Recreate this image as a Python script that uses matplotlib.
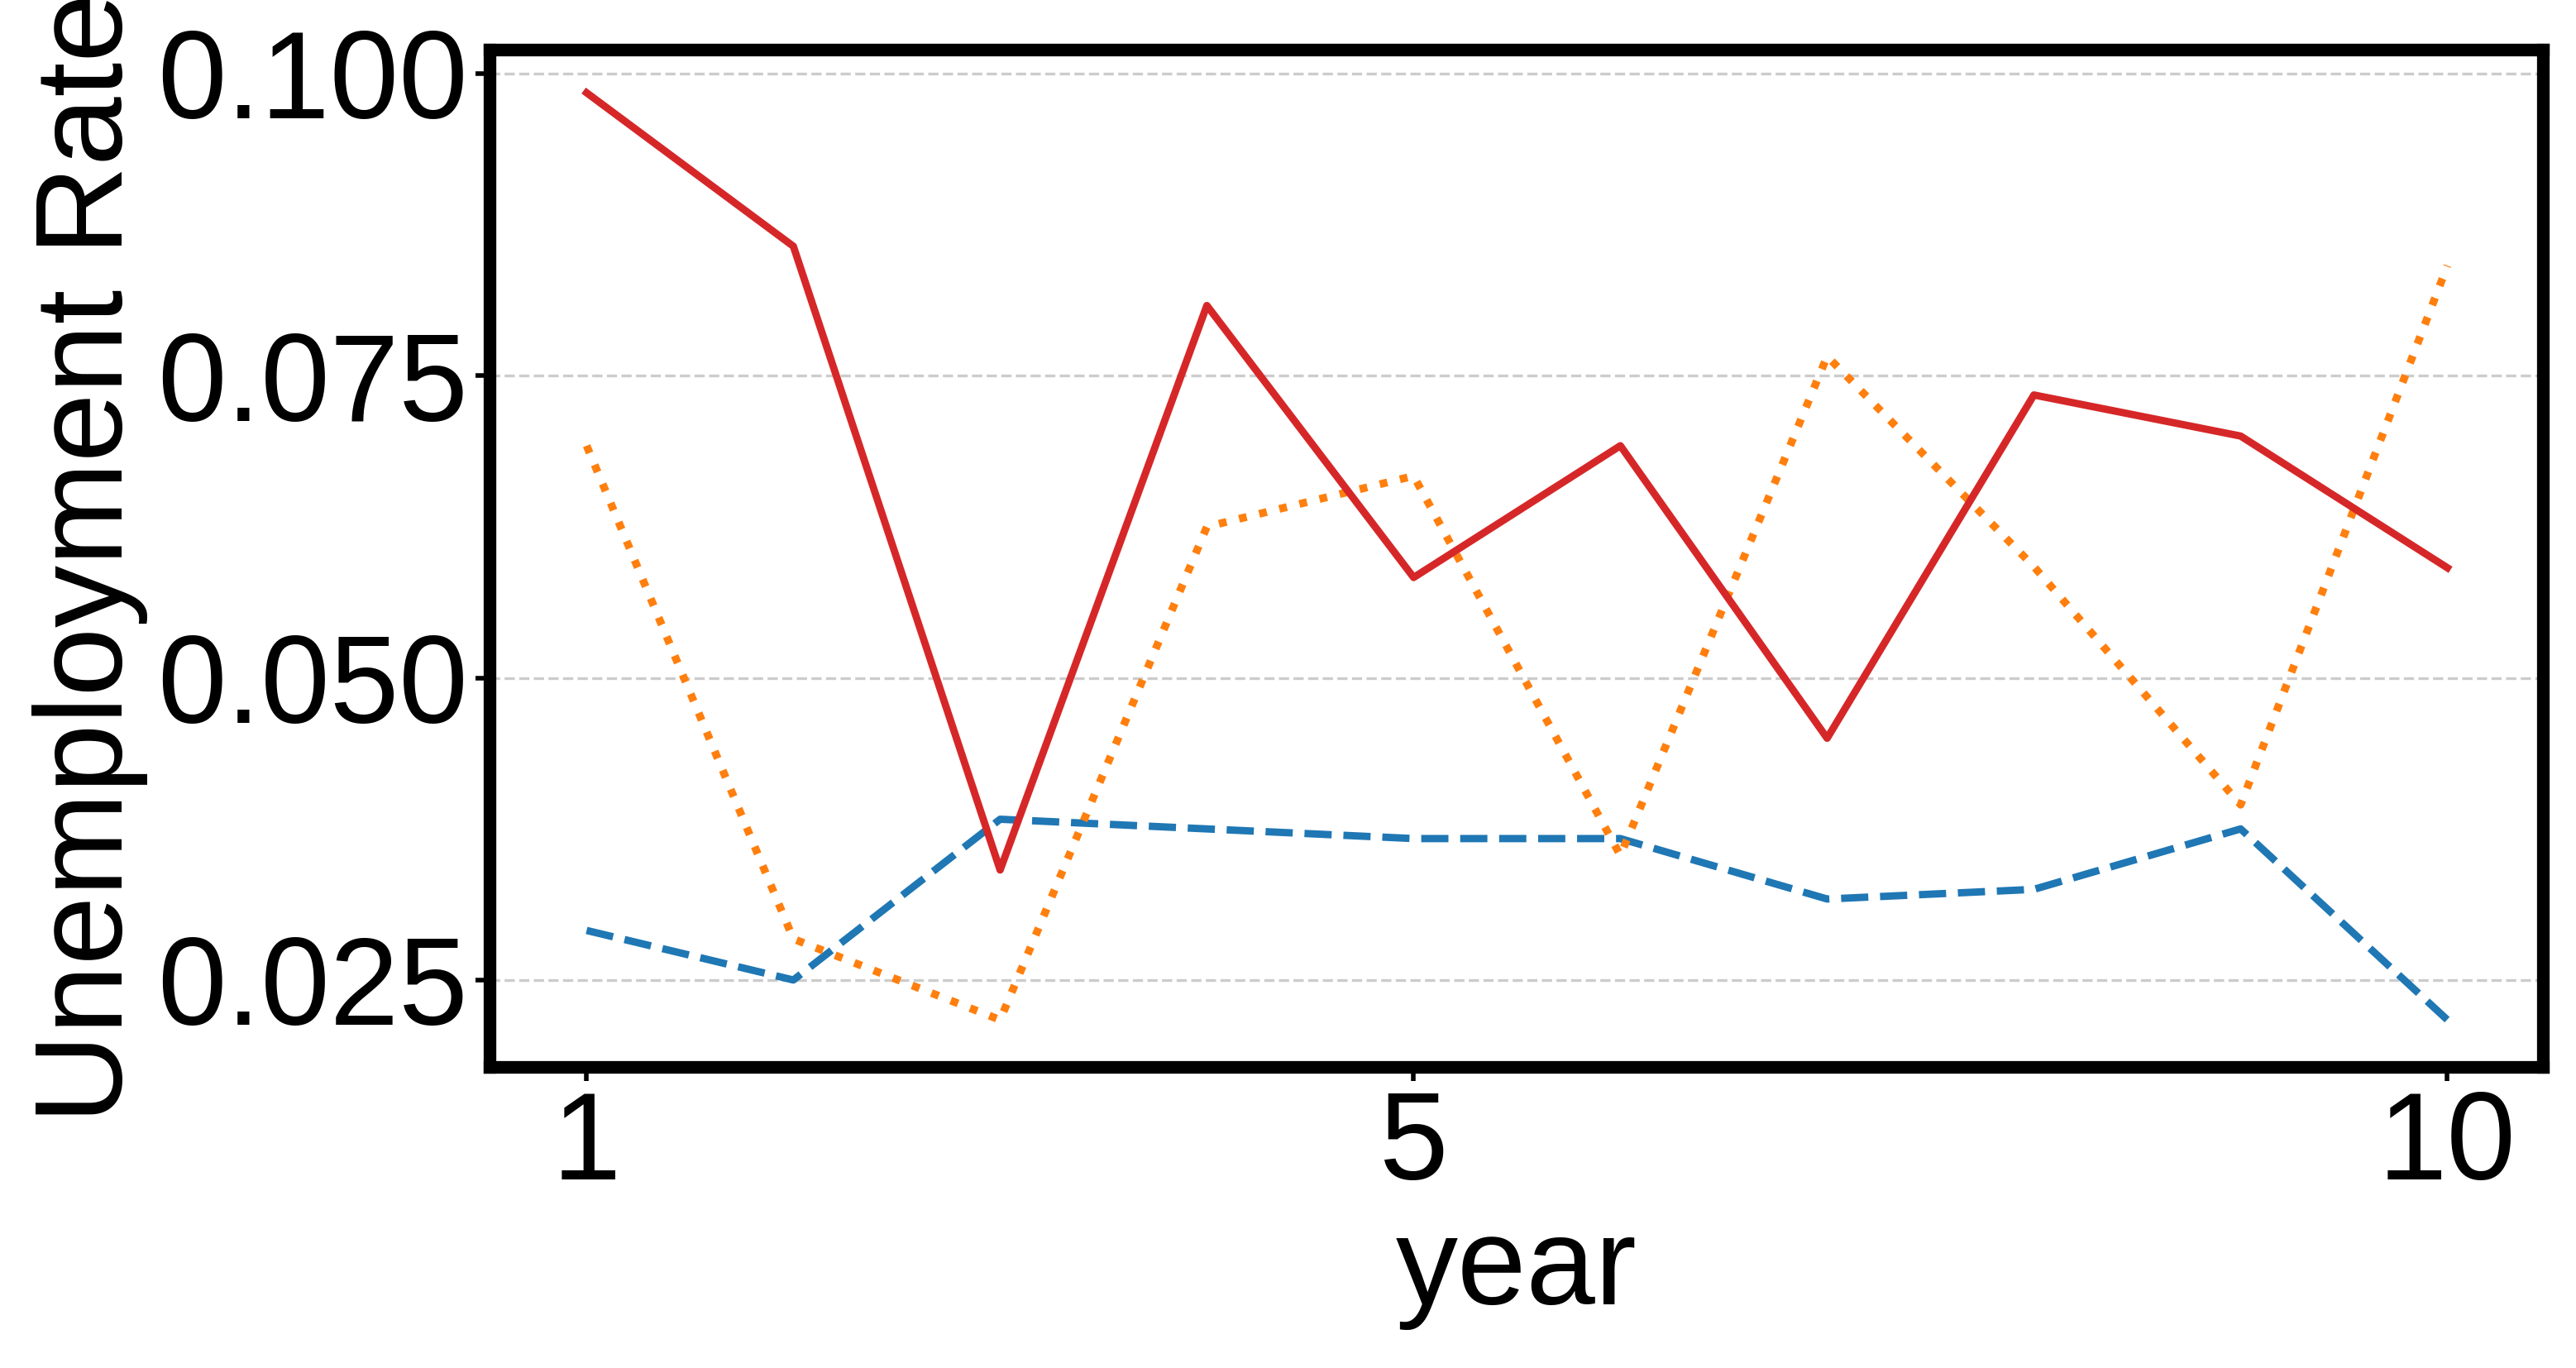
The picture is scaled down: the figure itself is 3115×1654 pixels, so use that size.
import matplotlib
matplotlib.use("Agg")
import matplotlib.pyplot as plt

years = [1, 2, 3, 4, 5, 6, 7, 8, 9, 10]
red = [0.0984, 0.0857, 0.0341, 0.0808, 0.0583, 0.0692, 0.0450, 0.0734, 0.0700, 0.0591]
orange = [0.0692, 0.0284, 0.0217, 0.0625, 0.0667, 0.0353, 0.0766, 0.0592, 0.0395, 0.0841]
blue = [0.0291, 0.0250, 0.0383, 0.0375, 0.0367, 0.0367, 0.0317, 0.0325, 0.0375, 0.0217]
yticks = [0.025, 0.050, 0.075, 0.100]

plt.rcParams['font.family'] = ['Liberation Sans', 'DejaVu Sans']
fig = plt.figure(figsize=(15.575, 8.27), dpi=200)
ax = fig.add_axes([0.19, 0.22, 0.797, 0.744])

ax.plot(years, blue, color="#1f77b4", ls="--", lw=3.2)
ax.plot(years, orange, color="#ff7f0e", ls=":", lw=3.4)
ax.plot(years, red, color="#d62728", ls="-", lw=3.2)

ax.set_xlim(0.53, 10.46)
ax.set_ylim(0.0178, 0.102)
ax.set_xticks([1, 5, 10])
ax.set_yticks(yticks)
ax.set_yticklabels([f"{v:.3f}" for v in yticks])
ax.tick_params(labelsize=54, width=2, length=6)
ax.yaxis.grid(True, ls="--", color="#cccccc", lw=1.2)
ax.set_axisbelow(True)
for s in ax.spines.values():
    s.set_linewidth(5.5)
ax.set_xlabel("year", fontsize=54, labelpad=4)
ax.set_ylabel("Unemployment Rate", fontsize=54, labelpad=4)

fig.savefig("out.png")
